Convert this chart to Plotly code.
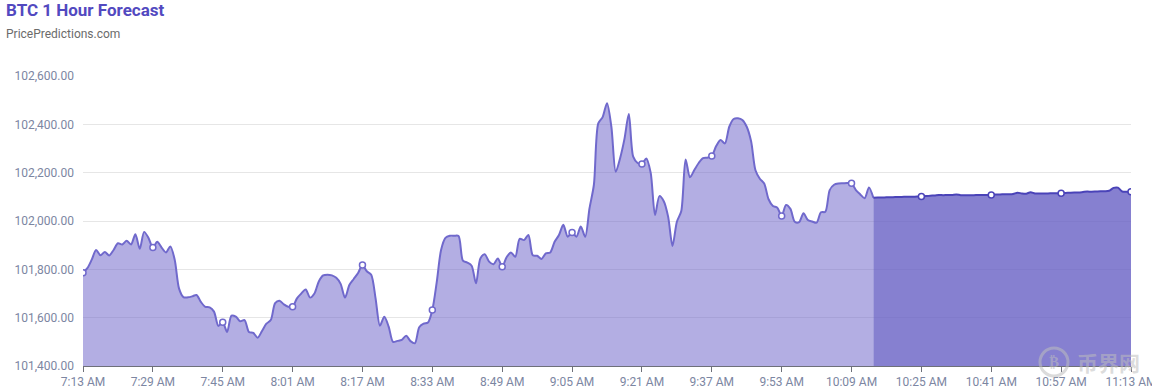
import pandas as pd
import plotly.graph_objects as go

# ---- data (per-minute BTC price) ----
start_time = "2025-01-01 07:13"
history_values = [
    101786, 101805, 101840, 101880, 101858, 101872, 101857, 101880, 101908, 101903,
    101918, 101903, 101945, 101885, 101955, 101930, 101890, 101914, 101890, 101870,
    101895, 101840, 101720, 101685, 101684, 101688, 101694, 101665, 101645, 101643,
    101625, 101566, 101581, 101541, 101608, 101604, 101585, 101590, 101541, 101537,
    101517, 101545, 101575, 101590, 101660, 101670, 101655, 101645, 101645, 101680,
    101700, 101717, 101683, 101700, 101750, 101775, 101778, 101775, 101765, 101740,
    101683, 101735, 101760, 101785, 101818, 101792, 101778, 101680, 101567, 101604,
    101563, 101500, 101504, 101508, 101525, 101503, 101494, 101560, 101575, 101580,
    101632, 101746, 101880, 101930, 101939, 101939, 101938, 101836, 101828, 101815,
    101742, 101845, 101862, 101832, 101821, 101845, 101811, 101850, 101870, 101852,
    101926, 101921, 101942, 101858, 101856, 101843, 101866, 101870, 101914, 101942,
    101984, 101935, 101952, 101935, 101977, 101935, 102053, 102150, 102404, 102430,
    102487, 102390, 102204, 102260, 102340, 102443, 102266, 102240, 102236, 102259,
    102200, 102025, 102103, 102082, 102018, 101897, 101997, 102040, 102255, 102181,
    102211, 102240, 102260, 102262, 102269, 102310, 102335, 102321, 102390, 102422,
    102425, 102418, 102390, 102330, 102210, 102175, 102155, 102090, 102062, 102055,
    102021, 102066, 102050, 101997, 101995, 102032, 102004, 101998, 101993, 102036,
    102038, 102128, 102150, 102155, 102156, 102157, 102156, 102128, 102110, 102094,
    102139, 102096,
]
forecast_values = [
    102096, 102097, 102097, 102098, 102098, 102099, 102099, 102100, 102100, 102100,
    102101, 102101, 102103, 102105, 102106, 102108, 102107, 102108, 102108, 102110,
    102107, 102107, 102107, 102107, 102108, 102108, 102108, 102108, 102110, 102110,
    102111, 102111, 102112, 102117, 102114, 102113, 102119, 102114, 102114, 102114,
    102114, 102115, 102115, 102115, 102116, 102117, 102118, 102118, 102120, 102122,
    102121, 102122, 102123, 102123, 102125, 102137, 102138, 102122, 102121, 102121,
]
marker_step = 16  # minutes between labelled points

n_total = len(history_values) + len(forecast_values) - 1
times = pd.date_range(start_time, periods=n_total, freq="1min")
hist_t = times[: len(history_values)]
fc_t = times[len(history_values) - 1:]
tick_times = [times[i] for i in range(0, n_total, marker_step)]
tick_text = [t.strftime("%-I:%M %p") for t in tick_times]

hist_line = "#7069cc"
hist_fill = "rgba(103,94,200,0.5)"
fc_line = "#4a43b8"
fc_fill = "rgba(104,96,196,0.8)"

fig = go.Figure()
fig.add_trace(go.Scatter(
    x=hist_t, y=history_values, mode="lines",
    line=dict(color=hist_line, width=2, shape="spline", smoothing=0.8),
    fill="tozeroy", fillcolor=hist_fill, hoverinfo="skip",
))
fig.add_trace(go.Scatter(
    x=fc_t, y=forecast_values, mode="lines",
    line=dict(color=fc_line, width=2, shape="spline", smoothing=0.8),
    fill="tozeroy", fillcolor=fc_fill, hoverinfo="skip",
))
all_vals = history_values + forecast_values[1:]
hi = [i for i in range(0, len(history_values), marker_step)]
fi = [i for i in range(len(history_values), n_total) if i % marker_step == 0]
fig.add_trace(go.Scatter(
    x=[times[i] for i in hi], y=[all_vals[i] for i in hi], mode="markers",
    marker=dict(symbol="circle", size=6, color="white", line=dict(color=hist_line, width=1.5)),
    hoverinfo="skip",
))
fig.add_trace(go.Scatter(
    x=[times[i] for i in fi], y=[all_vals[i] for i in fi], mode="markers",
    marker=dict(symbol="circle", size=6, color="white", line=dict(color=fc_line, width=1.5)),
    hoverinfo="skip",
))

W, H = 1152, 390
ML, MR, MT, MB = 83, 21, 76, 24
plot_w = W - ML - MR
plot_h = H - MT - MB


def px_x(x):
    return (x - ML) / plot_w


def px_y(y):
    return (H - MB - y) / plot_h


wm_color = "rgba(190,190,190,0.55)"
fig.update_layout(
    width=W, height=H,
    margin=dict(l=ML, r=MR, t=MT, b=MB, autoexpand=False),
    paper_bgcolor="white", plot_bgcolor="white",
    showlegend=False,
    font=dict(family="Roboto, sans-serif", size=12, color="#7c86a2"),
    annotations=[
        dict(text="<b>BTC 1 Hour Forecast</b>", x=px_x(4), y=px_y(10), xref="paper", yref="paper",
             xanchor="left", yanchor="middle", showarrow=False,
             font=dict(family="Roboto", size=17, color="#5249c0")),
        dict(text="PricePredictions.com", x=px_x(4), y=px_y(34), xref="paper", yref="paper",
             xanchor="left", yanchor="middle", showarrow=False,
             font=dict(family="Roboto", size=12, color="#6b6b6b")),
        dict(text="<b>币界网</b>", x=px_x(1108), y=px_y(362), xref="paper", yref="paper",
             xanchor="center", yanchor="middle", showarrow=False,
             font=dict(family="Noto Sans CJK SC", size=21, color=wm_color)),
        dict(text="<b>₿</b>", x=px_x(1054), y=px_y(362), xref="paper", yref="paper",
             xanchor="center", yanchor="middle", showarrow=False,
             font=dict(family="DejaVu Sans", size=15, color=wm_color)),
    ],
    shapes=[
        dict(type="circle", xref="paper", yref="paper",
             x0=px_x(1040), x1=px_x(1068), y0=px_y(376), y1=px_y(348),
             line=dict(color=wm_color, width=3), fillcolor="rgba(0,0,0,0)"),
    ],
)

fig.update_xaxes(
    range=[times[0], times[-1]],
    tickmode="array", tickvals=tick_times, ticktext=tick_text,
    showgrid=False, zeroline=False, automargin=False,
    ticklabeloverflow="allow",
    showline=True, linecolor="#6e7079", linewidth=1,
    ticks="outside", ticklen=5, tickcolor="#6e7079",
    tickfont=dict(size=12, color="#7c86a2"),
)
fig.update_yaxes(
    range=[101400, 102600], dtick=200, tickformat=",.2f",
    showgrid=True, gridcolor="#e6e6e6", zeroline=False, showline=False,
    ticks="", ticklabelstandoff=8, automargin=False,
    tickfont=dict(size=12, color="#7c86a2"),
)

fig.write_html("out.html")
